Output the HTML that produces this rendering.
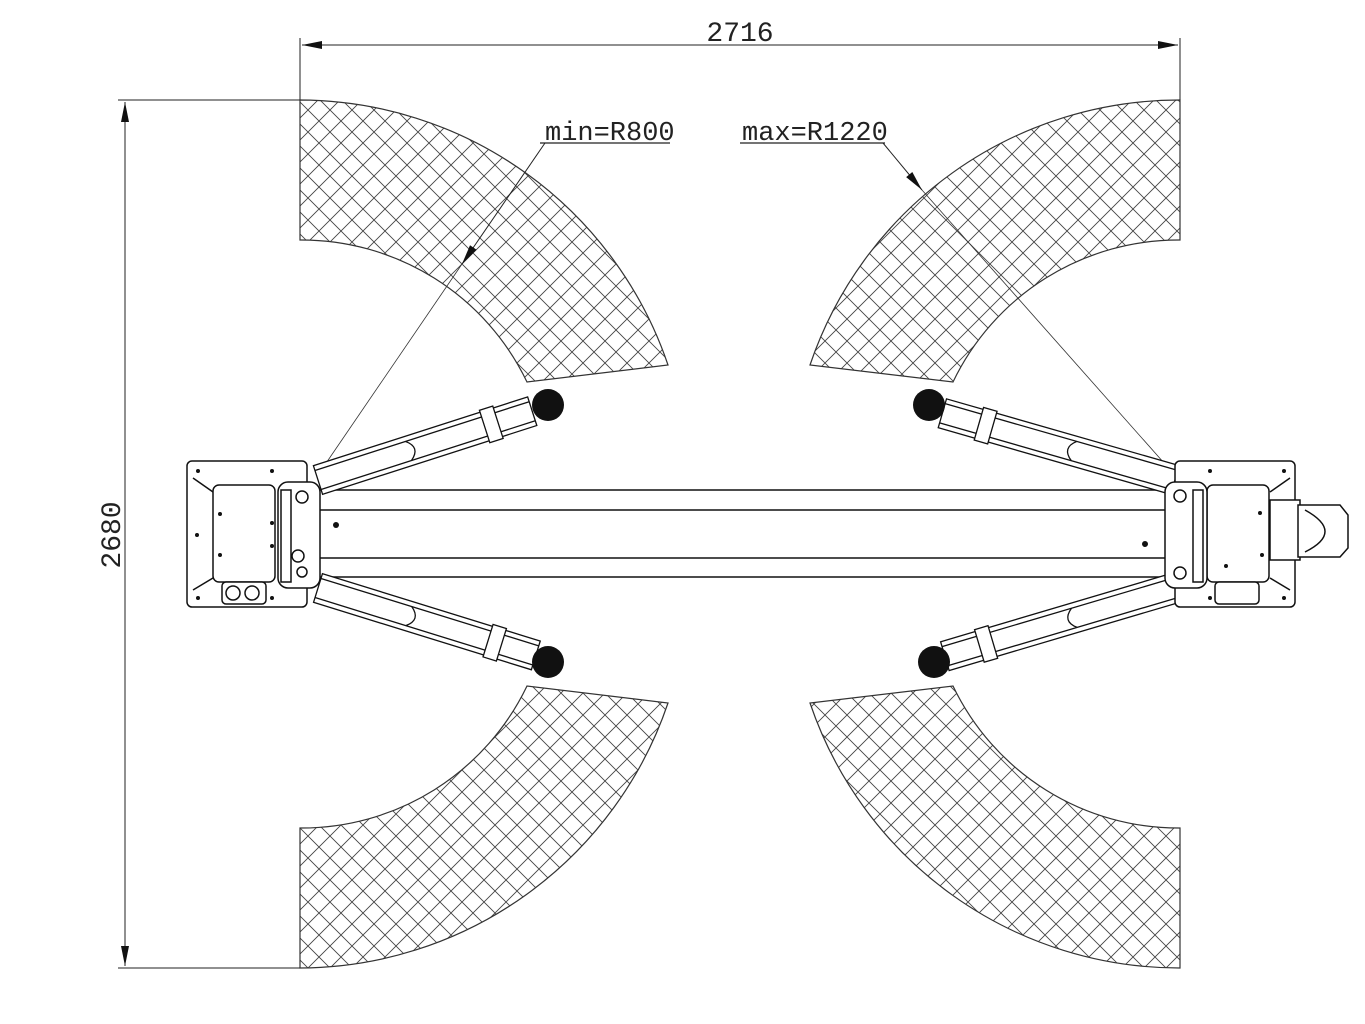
<!DOCTYPE html>
<html><head><meta charset="utf-8"><style>
html,body{margin:0;padding:0;background:#fff}
svg{display:block}
text{font-family:"Liberation Mono",monospace;fill:#222}
</style></head><body>
<svg width="1365" height="1024" viewBox="0 0 1365 1024" xmlns="http://www.w3.org/2000/svg">
<defs>
<pattern id="h" patternUnits="userSpaceOnUse" width="22" height="22">
<path d="M0,0 L22,22 M22,0 L0,22 M-11,11 L11,33 M11,-11 L33,11 M11,-11 L-11,11 M33,11 L11,33" stroke="#444" stroke-width="0.9" fill="none"/>
</pattern>
<marker id="al" viewBox="0 0 20 10" refX="20" refY="5" markerWidth="22" markerHeight="10" orient="auto-start-reverse" markerUnits="userSpaceOnUse">
<path d="M0,1 L20,5 L0,9 Z" fill="#111"/>
</marker>
</defs>

<g fill="url(#h)" stroke="#333" stroke-width="1.2">
<path d="M300,100 A390,390 0 0 1 668,365 L527,382 A250,250 0 0 0 300,240 Z"/>
<path d="M300,968 A390,390 0 0 0 668,703 L527,686 A250,250 0 0 1 300,828 Z"/>
<path d="M1180,100 A390,390 0 0 0 810,365 L953,382 A250,250 0 0 1 1180,240 Z"/>
<path d="M1180,968 A390,390 0 0 1 810,703 L953,686 A250,250 0 0 0 1180,828 Z"/>
</g>

<g stroke="#222" stroke-width="1" fill="none">
<line x1="300" y1="100" x2="300" y2="38"/>
<line x1="1180" y1="100" x2="1180" y2="38"/>
<line x1="302" y1="45" x2="1178" y2="45" marker-start="url(#al)" marker-end="url(#al)"/>
<line x1="300" y1="100" x2="118" y2="100"/>
<line x1="300" y1="968" x2="118" y2="968"/>
<line x1="125" y1="102" x2="125" y2="966" marker-start="url(#al)" marker-end="url(#al)"/>
</g>
<text x="740" y="41" font-size="28" text-anchor="middle">2716</text>
<text x="0" y="0" font-size="28" text-anchor="middle" transform="translate(120,535) rotate(-90)">2680</text>

<text x="545" y="140" font-size="27">min=R800</text>
<line x1="540" y1="143" x2="670" y2="143" stroke="#222" stroke-width="1.2"/>
<line x1="545" y1="143" x2="462" y2="264" stroke="#222" stroke-width="1" marker-end="url(#al)"/>
<line x1="462" y1="264" x2="320" y2="472" stroke="#333" stroke-width="0.8"/>
<text x="742" y="140" font-size="27">max=R1220</text>
<line x1="740" y1="143" x2="885" y2="143" stroke="#222" stroke-width="1.2"/>
<line x1="883" y1="143" x2="922" y2="190" stroke="#222" stroke-width="1" marker-end="url(#al)"/>
<line x1="922" y1="190" x2="1172" y2="472" stroke="#333" stroke-width="0.8"/>

<g stroke="#111" stroke-width="1.5" fill="none">
<line x1="318" y1="490" x2="1165" y2="490"/>
<line x1="318" y1="510" x2="1165" y2="510"/>
<line x1="318" y1="558" x2="1165" y2="558"/>
<line x1="318" y1="577" x2="1165" y2="577"/>
</g>
<circle cx="336" cy="525" r="3" fill="#111"/>
<circle cx="1145" cy="544" r="3" fill="#111"/>

<g stroke="#111" stroke-width="1.3" fill="#fff">
<g transform="translate(318,480) rotate(-17.8)">
<rect x="0" y="-15" width="225" height="30"/><line x1="0" y1="-10" x2="225" y2="-10"/><line x1="0" y1="10" x2="225" y2="10"/>
<path d="M95,-10 Q108,0 95,10" fill="none"/><rect x="175" y="-17" width="14" height="34"/>
</g>
<g transform="translate(318,588) rotate(17.2)">
<rect x="0" y="-15" width="228" height="30"/><line x1="0" y1="-10" x2="228" y2="-10"/><line x1="0" y1="10" x2="228" y2="10"/>
<path d="M95,-10 Q108,0 95,10" fill="none"/><rect x="178" y="-17" width="14" height="34"/>
</g>
<g transform="translate(1175,480) rotate(196)">
<rect x="0" y="-15" width="242" height="30"/><line x1="0" y1="-10" x2="242" y2="-10"/><line x1="0" y1="10" x2="242" y2="10"/>
<path d="M105,-10 Q118,0 105,10" fill="none"/><rect x="190" y="-17" width="14" height="34"/>
</g>
<g transform="translate(1175,588) rotate(163.5)">
<rect x="0" y="-15" width="240" height="30"/><line x1="0" y1="-10" x2="240" y2="-10"/><line x1="0" y1="10" x2="240" y2="10"/>
<path d="M105,-10 Q118,0 105,10" fill="none"/><rect x="190" y="-17" width="14" height="34"/>
</g>
</g>
<g fill="#111">
<circle cx="548" cy="405" r="16"/><circle cx="548" cy="662" r="16"/>
<circle cx="929" cy="405" r="16"/><circle cx="934" cy="662" r="16"/>
</g>

<g stroke="#111" stroke-width="1.5" fill="#fff">
<rect x="187" y="461" width="120" height="146" rx="5"/>
<rect x="213" y="485" width="62" height="97" rx="6"/>
<rect x="278" y="482" width="42" height="106" rx="10"/>
<rect x="281" y="490" width="10" height="92"/>
<rect x="222" y="582" width="44" height="22" rx="4"/>
<circle cx="233" cy="593" r="7" fill="none"/><circle cx="252" cy="593" r="7" fill="none"/>
<circle cx="302" cy="497" r="6" fill="none"/><circle cx="298" cy="556" r="6" fill="none"/><circle cx="302" cy="572" r="5" fill="none"/>
<line x1="193" y1="478" x2="213" y2="492"/><line x1="193" y1="590" x2="213" y2="578"/>
</g>
<g fill="#111"><circle cx="198" cy="471" r="2"/><circle cx="272" cy="471" r="2"/><circle cx="197" cy="535" r="2"/><circle cx="220" cy="514" r="2"/><circle cx="220" cy="555" r="2"/><circle cx="272" cy="523" r="2"/><circle cx="272" cy="546" r="2"/><circle cx="198" cy="598" r="2"/><circle cx="272" cy="598" r="2"/></g>

<g stroke="#111" stroke-width="1.5" fill="#fff">
<rect x="1175" y="461" width="120" height="146" rx="5"/>
<rect x="1207" y="485" width="62" height="97" rx="6"/>
<rect x="1165" y="482" width="42" height="106" rx="10"/>
<rect x="1193" y="490" width="10" height="92"/>
<rect x="1270" y="500" width="30" height="60"/>
<path d="M1298,505 L1340,505 L1348,515 L1348,548 L1340,557 L1298,557 Z"/>
<path d="M1305,510 Q1345,532 1305,552" fill="none"/>
<rect x="1215" y="582" width="44" height="22" rx="4"/>
<circle cx="1180" cy="496" r="6" fill="none"/><circle cx="1180" cy="573" r="6" fill="none"/>
<line x1="1290" y1="478" x2="1270" y2="492"/><line x1="1290" y1="590" x2="1270" y2="578"/>
</g>
<g fill="#111"><circle cx="1210" cy="471" r="2"/><circle cx="1284" cy="471" r="2"/><circle cx="1260" cy="513" r="2"/><circle cx="1262" cy="555" r="2"/><circle cx="1226" cy="566" r="2"/><circle cx="1210" cy="598" r="2"/><circle cx="1284" cy="598" r="2"/></g>
</svg>
</body></html>
